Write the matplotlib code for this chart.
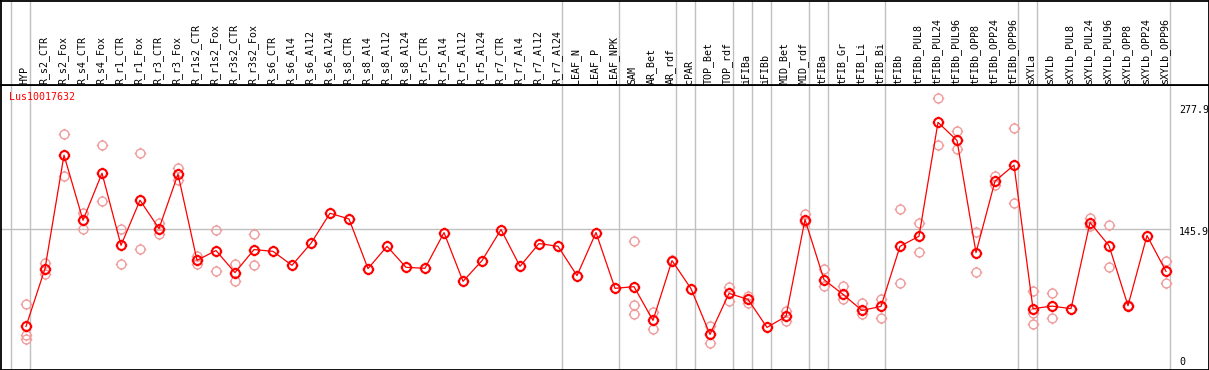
import numpy as np
import matplotlib
matplotlib.use("Agg")
import matplotlib.pyplot as plt
from matplotlib.path import Path

W, H = 1209, 370

samples = ["HYP", "R_s2_CTR", "R_s2_Fox", "R_s4_CTR", "R_s4_Fox", "R_r1_CTR", "R_r1_Fox",
           "R_r3_CTR", "R_r3_Fox", "R_r1s2_CTR", "R_r1s2_Fox", "R_r3s2_CTR", "R_r3s2_Fox",
           "R_s6_CTR", "R_s6_Al4", "R_s6_Al12", "R_s6_Al24", "R_s8_CTR", "R_s8_Al4", "R_s8_Al12",
           "R_s8_Al24", "R_r5_CTR", "R_r5_Al4", "R_r5_Al12", "R_r5_Al24", "R_r7_CTR", "R_r7_Al4",
           "R_r7_Al12", "R_r7_Al24", "LEAF_N", "LEAF_P", "LEAF_NPK", "SAM", "AR_Bet", "AR_rdf",
           "cPAR", "TOP_Bet", "TOP_rdf", "iFIBa", "iFIBb", "MID_Bet", "MID_rdf", "tFIBa",
           "tFIB_Gr", "tFIB_Li", "tFIB_Bi", "tFIBb", "tFIBb_PUL8", "tFIBb_PUL24", "tFIBb_PUL96",
           "tFIBb_OPP8", "tFIBb_OPP24", "tFIBb_OPP96", "sXYLa", "sXYLb", "sXYLb_PUL8",
           "sXYLb_PUL24", "sXYLb_PUL96", "sXYLb_OPP8", "sXYLb_OPP24", "sXYLb_OPP96"]

mean_expr = [46.7, 105.3, 220.3, 154.3, 202.0, 128.9, 174.6, 145.9, 201.0, 113.7,
             123.6, 101.2, 124.6, 122.8, 108.6, 131.0, 161.4, 155.6, 105.3, 127.9,
             106.6, 105.6, 141.8, 92.4, 113.4, 144.9, 107.6, 130.7, 127.9, 98.2,
             141.8, 85.3, 87.0, 52.8, 113.4, 85.0, 38.6, 80.2, 74.1, 45.7,
             56.9, 155.0, 94.1, 79.2, 62.9, 67.0, 127.9, 138.1, 253.5, 235.2,
             121.5, 193.9, 210.2, 64.7, 67.3, 64.7, 152.0, 128.6, 67.7, 138.8,
             102.5]

rep_expr = [
    [69.7, 37.6, 34.2],
    [111.0, 100.2],
    [241.3, 199.3],
    [161.7, 145.9],
    [230.2, 173.6],
    [145.9, 110.4],
    [222.0, 125.6],
    [151.6, 140.1],
    [206.8, 194.9],
    [117.8, 110.4],
    [144.9, 102.5],
    [110.4, 92.7],
    [140.8, 108.6],
    [], [], [], [], [], [], [], [], [], [], [], [], [], [], [], [], [], [], [],
    [133.7, 68.0, 59.6],
    [61.2, 44.4],
    [114.4],
    [],
    [46.7, 30.2],
    [86.3, 72.4],
    [77.5, 70.8],
    [],
    [62.2, 51.8],
    [161.1, 152.3],
    [104.6, 87.3],
    [87.3, 74.4],
    [70.4, 58.9],
    [74.8, 55.5],
    [166.2, 90.4],
    [152.0, 122.5],
    [277.9, 230.5],
    [244.4, 226.1],
    [142.8, 101.5],
    [199.0, 189.8],
    [247.4, 171.3],
    [82.9, 60.2, 49.4],
    [80.9, 55.5],
    [],
    [156.6, 148.2],
    [149.9, 107.3],
    [68.7],
    [],
    [113.4, 91.1],
]

# last sample index of each group (separators drawn after them)
group_ends = [0, 28, 31, 34, 35, 37, 38, 39, 41, 42, 45, 52, 53, 60]
ytick_vals = [277.9, 145.9, 0]
title = "Lus10017632"

# circle marker with little ticks
circ = Path.unit_circle()
tick_v = [(1.0, 0), (1.3, 0), (-1.0, 0), (-1.3, 0), (0, 1.0), (0, 1.3), (0, -1.0), (0, -1.3)]
tick_c = [Path.MOVETO, Path.LINETO] * 4
sun = Path.make_compound_path(circ, Path(tick_v, tick_c))

x = np.arange(len(samples))
xl = ((0.5 - 26) / 19, (1208.5 - 26) / 19)
ylo, yhi = (372 - 369) / 0.985, (372 - 85) / 0.985

fig = plt.figure(figsize=(W / 100, H / 100), dpi=100)
ax = fig.add_axes([0.5 / W, 1 - 369.5 / H, 1208 / W, (369.5 - 85) / H])
hd = fig.add_axes([0.5 / W, 1 - 85 / H, 1208 / W, 84.5 / H])

for a in (ax, hd):
    a.set_xlim(*xl)
    a.set_xticks([])
    a.set_yticks([])
    for s in a.spines.values():
        s.set_color("black")
        s.set_linewidth(1.3)
hd.set_ylim(0, 1)
ax.set_ylim(ylo, yhi)

seps = [-0.77] + [e + 0.23 for e in group_ends]
for sx in seps:
    ax.axvline(sx, color="#c0c0c0", lw=1.0, zorder=1)
    hd.axvline(sx, color="#c0c0c0", lw=1.0, zorder=1)
ax.plot([xl[0], seps[-1]], [145.9, 145.9], color="#c0c0c0", lw=1.0, zorder=1)

# replicates
for i, reps in enumerate(rep_expr):
    if reps:
        ax.plot([i] * len(reps), reps, linestyle="none", marker=sun, ms=8.3,
                mfc="none", mec="#f09c9c", mew=1.0, zorder=2)

ax.plot(x, mean_expr, color="red", lw=0.9, zorder=3)
ax.plot(x, mean_expr, linestyle="none", marker=sun, ms=8.3, mfc="none",
        mec="red", mew=1.5, zorder=4)

for i, lab in enumerate(samples):
    hd.text(i - 0.08, 1 / 84.5, lab, rotation=90, ha="center", va="bottom",
            fontsize=7.2, family="DejaVu Sans Mono")

fig.text(9.5 / W, 1 - 97 / H, title, color="red", fontsize=7.2,
         family="DejaVu Sans Mono", ha="left", va="center")

for val, py in zip(ytick_vals, [110, 232, 362]):
    fig.text(1179 / W, 1 - py / H, f"{val:g}", fontsize=7.2,
             family="DejaVu Sans Mono", ha="left", va="center")

fig.savefig("out.png", dpi=100)
